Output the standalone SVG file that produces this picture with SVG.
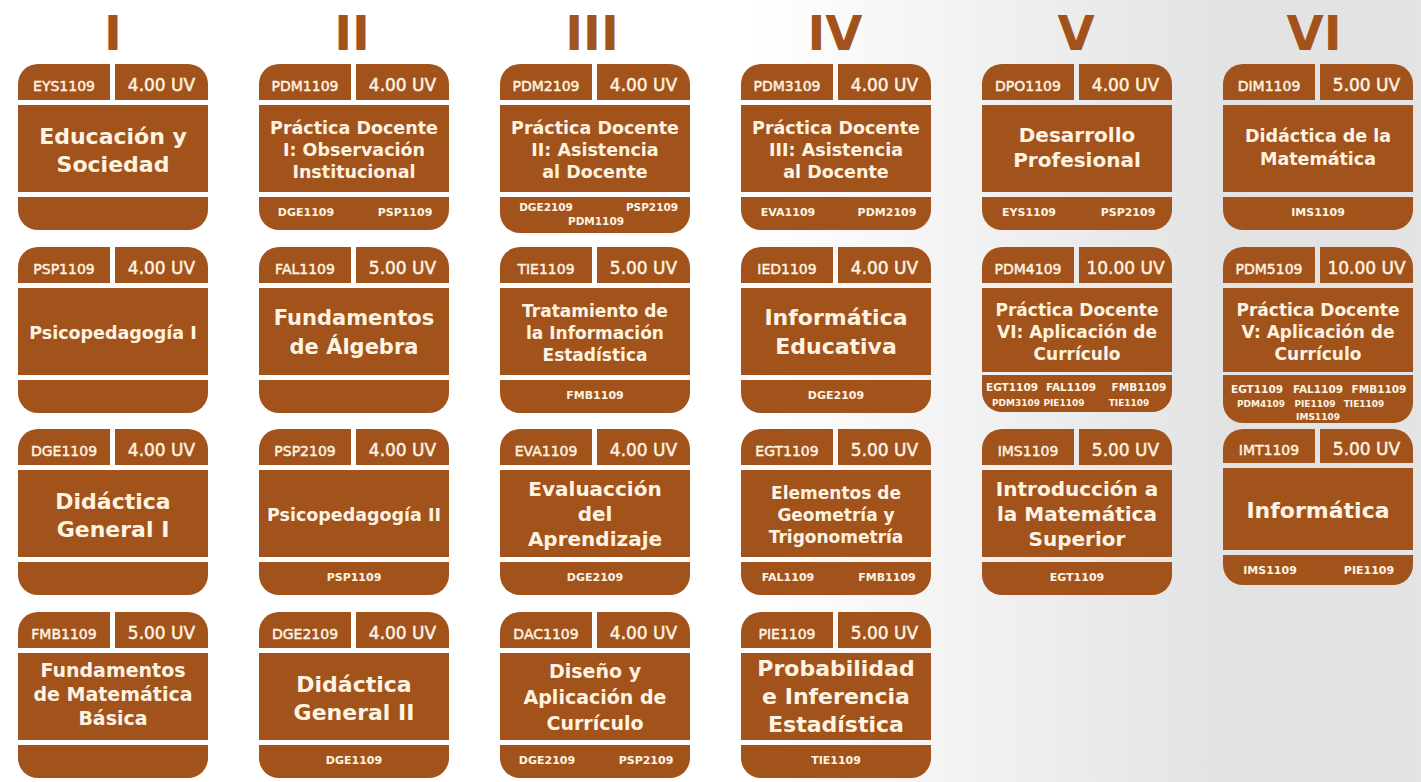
<svg xmlns="http://www.w3.org/2000/svg" xmlns:xlink="http://www.w3.org/1999/xlink" width="1421" height="782" viewBox="0 0 1421 782">
<style>
.num{fill:#a2531c;font-family:"DejaVu Sans",sans-serif;font-weight:bold;font-size:48px;text-anchor:middle}
.card use,.card path,.card rect{fill:#a2531c}
.card text{fill:#fff3e2;font-family:"DejaVu Sans",sans-serif;text-anchor:middle}
.cd{font-size:14px;stroke:#fff3e2;stroke-width:0.45}
.uv{font-size:17px;stroke:#fff3e2;stroke-width:0.45}
.t{font-weight:bold;font-size:17.5px}
.t22{font-weight:bold;font-size:22px}
.t21{font-weight:bold;font-size:21px}
.t20{font-weight:bold;font-size:20px}
.t19{font-weight:bold;font-size:19px}
.t17{font-weight:bold;font-size:17px}
.p{font-weight:bold;font-size:11px}
.p10{font-weight:bold;font-size:10.5px}
.p9{font-weight:bold;font-size:9px}
</style>
<defs>
<linearGradient id="bg" x1="0" y1="0" x2="1421" y2="0" gradientUnits="userSpaceOnUse">
<stop offset="0" stop-color="#ffffff"/>
<stop offset="0.53" stop-color="#ffffff"/>
<stop offset="0.87" stop-color="#e2e2e2"/>
<stop offset="1" stop-color="#e4e4e4"/>
</linearGradient>
<path id="tl" d="M0 36V20A20 20 0 0 1 20 0H92V36Z"/>
<path id="tr" d="M97 0H170A20 20 0 0 1 190 20V36H97Z"/>
<rect id="bd" x="0" y="41" width="190" height="87"/>
<path id="bn" d="M0 133H190V146A20 20 0 0 1 170 166H20A20 20 0 0 1 0 146Z"/>
</defs>
<rect width="1421" height="782" fill="url(#bg)"/>

<g id="semesters">
<text class="num" x="113" y="50">I</text>
<text class="num" x="352" y="50">II</text>
<text class="num" x="592" y="50">III</text>
<text class="num" x="835" y="50">IV</text>
<text class="num" x="1076" y="50">V</text>
<text class="num" x="1314" y="50">VI</text>
</g>

<g id="connectors"/>

<!-- Column I -->
<g id="EYS1109" class="card" transform="translate(18,64)">
<use xlink:href="#tl"/><use xlink:href="#tr"/><use xlink:href="#bd"/><use xlink:href="#bn"/>
<text class="cd" x="46" y="27">EYS1109</text><text class="uv" x="143.5" y="27">4.00 UV</text>
<text class="t22" x="95" y="80">Educación y</text><text class="t22" x="95" y="108">Sociedad</text>
</g>
<g id="PSP1109" class="card" transform="translate(18,247)">
<use xlink:href="#tl"/><use xlink:href="#tr"/><use xlink:href="#bd"/><use xlink:href="#bn"/>
<text class="cd" x="46" y="27">PSP1109</text><text class="uv" x="143.5" y="27">4.00 UV</text>
<text class="t" x="95" y="92">Psicopedagogía I</text>
</g>
<g id="DGE1109" class="card" transform="translate(18,429)">
<use xlink:href="#tl"/><use xlink:href="#tr"/><use xlink:href="#bd"/><use xlink:href="#bn"/>
<text class="cd" x="46" y="27">DGE1109</text><text class="uv" x="143.5" y="27">4.00 UV</text>
<text class="t22" x="95" y="80">Didáctica</text><text class="t22" x="95" y="108">General I</text>
</g>
<g id="FMB1109" class="card" transform="translate(18,612)">
<use xlink:href="#tl"/><use xlink:href="#tr"/><use xlink:href="#bd"/><use xlink:href="#bn"/>
<text class="cd" x="46" y="27">FMB1109</text><text class="uv" x="143.5" y="27">5.00 UV</text>
<text class="t19" x="95" y="65">Fundamentos</text><text class="t19" x="95" y="89">de Matemática</text><text class="t19" x="95" y="113">Básica</text>
</g>

<!-- Column II -->
<g id="PDM1109" class="card" transform="translate(259,64)">
<use xlink:href="#tl"/><use xlink:href="#tr"/><use xlink:href="#bd"/><use xlink:href="#bn"/>
<text class="cd" x="46" y="27">PDM1109</text><text class="uv" x="143.5" y="27">4.00 UV</text>
<text class="t" x="95" y="70">Práctica Docente</text><text class="t" x="95" y="92">I: Observación</text><text class="t" x="95" y="114">Institucional</text>
<text class="p" x="47" y="152">DGE1109</text><text class="p" x="146" y="152">PSP1109</text>
</g>
<g id="FAL1109" class="card" transform="translate(259,247)">
<use xlink:href="#tl"/><use xlink:href="#tr"/><use xlink:href="#bd"/><use xlink:href="#bn"/>
<text class="cd" x="46" y="27">FAL1109</text><text class="uv" x="143.5" y="27">5.00 UV</text>
<text class="t21" x="95" y="78">Fundamentos</text><text class="t21" x="95" y="107">de Álgebra</text>
</g>
<g id="PSP2109" class="card" transform="translate(259,429)">
<use xlink:href="#tl"/><use xlink:href="#tr"/><use xlink:href="#bd"/><use xlink:href="#bn"/>
<text class="cd" x="46" y="27">PSP2109</text><text class="uv" x="143.5" y="27">4.00 UV</text>
<text class="t" x="95" y="92">Psicopedagogía II</text>
<text class="p" x="95" y="152">PSP1109</text>
</g>
<g id="DGE2109" class="card" transform="translate(259,612)">
<use xlink:href="#tl"/><use xlink:href="#tr"/><use xlink:href="#bd"/><use xlink:href="#bn"/>
<text class="cd" x="46" y="27">DGE2109</text><text class="uv" x="143.5" y="27">4.00 UV</text>
<text class="t22" x="95" y="80">Didáctica</text><text class="t22" x="95" y="108">General II</text>
<text class="p" x="95" y="152">DGE1109</text>
</g>

<!-- Column III -->
<g id="PDM2109" class="card" transform="translate(500,64)">
<use xlink:href="#tl"/><use xlink:href="#tr"/><use xlink:href="#bd"/>
<path d="M0 133H190V149A20 20 0 0 1 170 169H20A20 20 0 0 1 0 149Z"/>
<text class="cd" x="46" y="27">PDM2109</text><text class="uv" x="143.5" y="27">4.00 UV</text>
<text class="t" x="95" y="70">Práctica Docente</text><text class="t" x="95" y="92">II: Asistencia</text><text class="t" x="95" y="114">al Docente</text>
<text class="p10" x="46" y="147">DGE2109</text><text class="p10" x="152" y="147">PSP2109</text>
<text class="p10" x="96" y="161">PDM1109</text>
</g>
<g id="TIE1109" class="card" transform="translate(500,247)">
<use xlink:href="#tl"/><use xlink:href="#tr"/><use xlink:href="#bd"/><use xlink:href="#bn"/>
<text class="cd" x="46" y="27">TIE1109</text><text class="uv" x="143.5" y="27">5.00 UV</text>
<text class="t17" x="95" y="70">Tratamiento de</text><text class="t17" x="95" y="92">la Información</text><text class="t17" x="95" y="114">Estadística</text>
<text class="p" x="95" y="152">FMB1109</text>
</g>
<g id="EVA1109" class="card" transform="translate(500,429)">
<use xlink:href="#tl"/><use xlink:href="#tr"/><use xlink:href="#bd"/><use xlink:href="#bn"/>
<text class="cd" x="46" y="27">EVA1109</text><text class="uv" x="143.5" y="27">4.00 UV</text>
<text class="t20" x="95" y="67">Evaluacción</text><text class="t20" x="95" y="92">del</text><text class="t20" x="95" y="117">Aprendizaje</text>
<text class="p" x="95" y="152">DGE2109</text>
</g>
<g id="DAC1109" class="card" transform="translate(500,612)">
<use xlink:href="#tl"/><use xlink:href="#tr"/><use xlink:href="#bd"/><use xlink:href="#bn"/>
<text class="cd" x="46" y="27">DAC1109</text><text class="uv" x="143.5" y="27">4.00 UV</text>
<text class="t19" x="95" y="66">Diseño y</text><text class="t19" x="95" y="92">Aplicación de</text><text class="t19" x="95" y="118">Currículo</text>
<text class="p" x="47" y="152">DGE2109</text><text class="p" x="146" y="152">PSP2109</text>
</g>

<!-- Column IV -->
<g id="PDM3109" class="card" transform="translate(741,64)">
<use xlink:href="#tl"/><use xlink:href="#tr"/><use xlink:href="#bd"/><use xlink:href="#bn"/>
<text class="cd" x="46" y="27">PDM3109</text><text class="uv" x="143.5" y="27">4.00 UV</text>
<text class="t" x="95" y="70">Práctica Docente</text><text class="t" x="95" y="92">III: Asistencia</text><text class="t" x="95" y="114">al Docente</text>
<text class="p" x="47" y="152">EVA1109</text><text class="p" x="146" y="152">PDM2109</text>
</g>
<g id="IED1109" class="card" transform="translate(741,247)">
<use xlink:href="#tl"/><use xlink:href="#tr"/><use xlink:href="#bd"/><use xlink:href="#bn"/>
<text class="cd" x="46" y="27">IED1109</text><text class="uv" x="143.5" y="27">4.00 UV</text>
<text class="t22" x="95" y="78">Informática</text><text class="t22" x="95" y="107">Educativa</text>
<text class="p" x="95" y="152">DGE2109</text>
</g>
<g id="EGT1109" class="card" transform="translate(741,429)">
<use xlink:href="#tl"/><use xlink:href="#tr"/><use xlink:href="#bd"/><use xlink:href="#bn"/>
<text class="cd" x="46" y="27">EGT1109</text><text class="uv" x="143.5" y="27">5.00 UV</text>
<text class="t17" x="95" y="70">Elementos de</text><text class="t17" x="95" y="92">Geometría y</text><text class="t17" x="95" y="114">Trigonometría</text>
<text class="p" x="47" y="152">FAL1109</text><text class="p" x="146" y="152">FMB1109</text>
</g>
<g id="PIE1109" class="card" transform="translate(741,612)">
<use xlink:href="#tl"/><use xlink:href="#tr"/><use xlink:href="#bd"/><use xlink:href="#bn"/>
<text class="cd" x="46" y="27">PIE1109</text><text class="uv" x="143.5" y="27">5.00 UV</text>
<text class="t22" x="95" y="64">Probabilidad</text><text class="t22" x="95" y="92">e Inferencia</text><text class="t22" x="95" y="120">Estadística</text>
<text class="p" x="95" y="152">TIE1109</text>
</g>

<!-- Column V -->
<g id="DPO1109" class="card" transform="translate(982,64)">
<use xlink:href="#tl"/><use xlink:href="#tr"/><use xlink:href="#bd"/><use xlink:href="#bn"/>
<text class="cd" x="46" y="27">DPO1109</text><text class="uv" x="143.5" y="27">4.00 UV</text>
<text class="t20" x="95" y="78">Desarrollo</text><text class="t20" x="95" y="103">Profesional</text>
<text class="p" x="47" y="152">EYS1109</text><text class="p" x="146" y="152">PSP2109</text>
</g>
<g id="PDM4109" class="card" transform="translate(982,247)">
<use xlink:href="#tl"/><use xlink:href="#tr"/>
<rect x="0" y="41" width="190" height="84"/>
<path d="M0 128H190V145A20 20 0 0 1 170 165H20A20 20 0 0 1 0 145Z"/>
<text class="cd" x="46" y="27">PDM4109</text><text class="uv" x="143.5" y="27">10.00 UV</text>
<text class="t17" x="95" y="68.5">Práctica Docente</text><text class="t17" x="95" y="90.5">VI: Aplicación de</text><text class="t17" x="95" y="112.5">Currículo</text>
<text class="p10" x="30" y="144">EGT1109</text><text class="p10" x="89" y="144">FAL1109</text><text class="p10" x="157" y="144">FMB1109</text>
<text class="p9" x="34" y="159">PDM3109</text><text class="p9" x="82" y="159">PIE1109</text><text class="p9" x="147" y="159">TIE1109</text>
</g>
<g id="IMS1109" class="card" transform="translate(982,429)">
<use xlink:href="#tl"/><use xlink:href="#tr"/><use xlink:href="#bd"/><use xlink:href="#bn"/>
<text class="cd" x="46" y="27">IMS1109</text><text class="uv" x="143.5" y="27">5.00 UV</text>
<text class="t20" x="95" y="67">Introducción a</text><text class="t20" x="95" y="92">la Matemática</text><text class="t20" x="95" y="117">Superior</text>
<text class="p" x="95" y="152">EGT1109</text>
</g>

<!-- Column VI -->
<g id="DIM1109" class="card" transform="translate(1223,64)">
<use xlink:href="#tl"/><use xlink:href="#tr"/><use xlink:href="#bd"/><use xlink:href="#bn"/>
<text class="cd" x="46" y="27">DIM1109</text><text class="uv" x="143.5" y="27">5.00 UV</text>
<text class="t" x="95" y="78">Didáctica de la</text><text class="t" x="95" y="101">Matemática</text>
<text class="p" x="95" y="152">IMS1109</text>
</g>
<g id="PDM5109" class="card" transform="translate(1223,247)">
<use xlink:href="#tl"/><use xlink:href="#tr"/>
<rect x="0" y="41" width="190" height="84"/>
<path d="M0 128H190V156A20 20 0 0 1 170 176H20A20 20 0 0 1 0 156Z"/>
<text class="cd" x="46" y="27">PDM5109</text><text class="uv" x="143.5" y="27">10.00 UV</text>
<text class="t17" x="95" y="68.5">Práctica Docente</text><text class="t17" x="95" y="90.5">V: Aplicación de</text><text class="t17" x="95" y="112.5">Currículo</text>
<text class="p10" x="34" y="146">EGT1109</text><text class="p10" x="95" y="146">FAL1109</text><text class="p10" x="156" y="146">FMB1109</text>
<text class="p9" x="38" y="160">PDM4109</text><text class="p9" x="92" y="160">PIE1109</text><text class="p9" x="141" y="160">TIE1109</text>
<text class="p9" x="95" y="173">IMS1109</text>
</g>
<g id="IMT1109" class="card" transform="translate(1223,429)">
<path d="M0 34V20A20 20 0 0 1 20 0H92V34Z"/><path d="M97 0H170A20 20 0 0 1 190 20V34H97Z"/>
<rect x="0" y="39" width="190" height="82"/>
<path d="M0 126H190V136A20 20 0 0 1 170 156H20A20 20 0 0 1 0 136Z"/>
<text class="cd" x="46" y="26">IMT1109</text><text class="uv" x="143.5" y="26">5.00 UV</text>
<text class="t22" x="95" y="89">Informática</text>
<text class="p" x="47" y="145">IMS1109</text><text class="p" x="146" y="145">PIE1109</text>
</g>
</svg>
